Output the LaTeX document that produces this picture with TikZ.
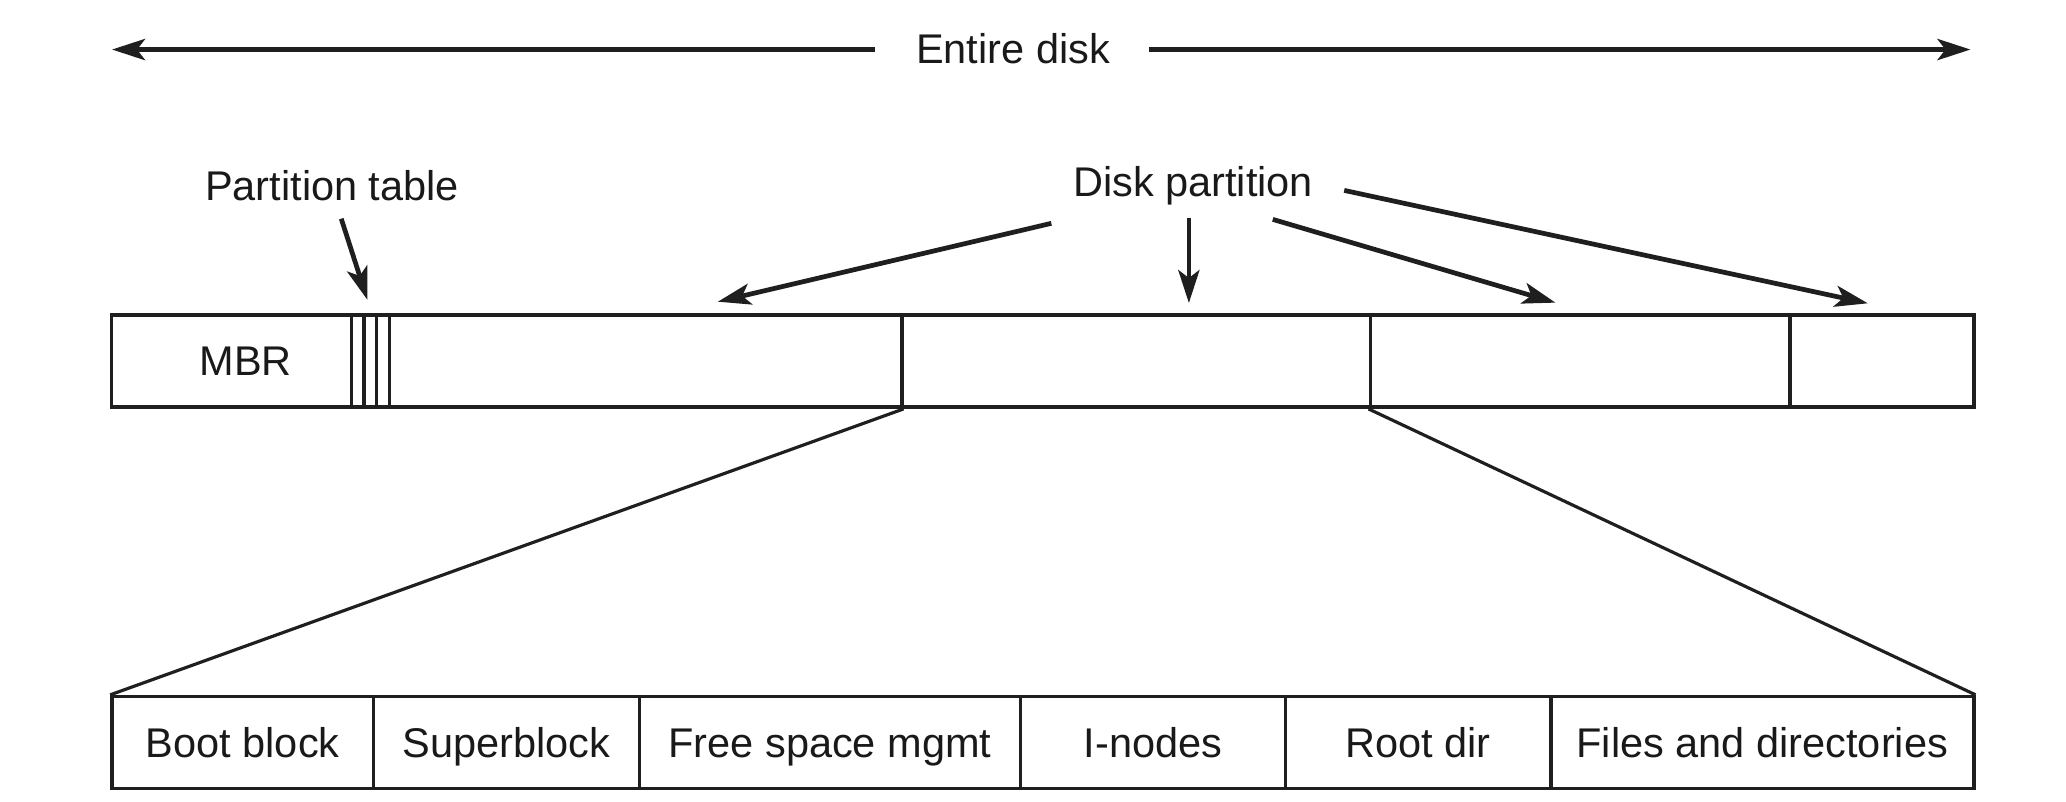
\documentclass[tikz,border=0pt]{standalone}
\usepackage{fontspec}
\setmainfont{Liberation Sans}
\usetikzlibrary{arrows.meta}
\begin{document}
\begin{tikzpicture}[x=1pt,y=-1pt,line join=miter,
  lbl/.style={font=\fontsize{31.5}{36}\selectfont,inner sep=0pt,text=black!90},
  cell/.style={draw=black!88,line width=2.7pt,inner sep=0pt,minimum height=70pt,
    font=\fontsize{31.5}{36}\selectfont,text height=22.6pt,text depth=0pt,text=black!90},
  bcell/.style={cell,minimum height=69.6pt},
  conn/.style={draw=black!88,line width=2.4pt},
  arr/.style={draw=black!88,line width=3.6pt,-{Stealth[length=25pt,width=16pt,inset=6pt]}},
  darr/.style={draw=black!88,line width=3.8pt,-{Stealth[length=25pt,width=16pt,inset=6pt]}}]
\useasboundingbox (0,0) rectangle (1568,608);

% Entire disk
\node[lbl,anchor=base,inner xsep=0pt] (ed) at (768.8,48.1) {Entire disk};
\coordinate (edLs) at (664.1,37.6);
\coordinate (edRs) at (872,37.6);
\coordinate (edL) at (85,37.6);
\coordinate (edR) at (1495.5,37.6);
\draw[darr] (edLs) -- (edL);
\draw[darr] (edRs) -- (edR);

% top bar
\node[cell,minimum width=182.2pt] (mbr) at (175.8,274) {};
\node[lbl] (mbrt) at (186.5,274) {MBR};
\node[cell,minimum width=9.4pt] (pt1) at (271.6,274) {};
\node[cell,minimum width=9.6pt] (pt2) at (281.1,274) {};
\node[cell,minimum width=9.6pt] (pt3) at (290.7,274) {};
\node[cell,minimum width=388.9pt] (p1) at (489.95,274) {};
\node[cell,minimum width=355.6pt] (p2) at (862.2,274) {};
\node[cell,minimum width=318.7pt] (p3) at (1199.35,274) {};
\node[cell,minimum width=139.5pt] (p4) at (1428.45,274) {};

% Partition table
\node[lbl,anchor=base] (pt) at (252,151.8) {Partition table};
\coordinate (ptS) at (259,166);
\coordinate (ptT) at (278.8,227.5);
\draw[arr] (ptS) -- (ptT);

% Disk partition
\node[lbl,anchor=base] (dp) at (905.5,149.3) {Disk partition};
\coordinate (dpa) at (797.9,169.5);
\coordinate (dpaT) at (544.8,229);
\coordinate (dpb) at (902.3,165.7);
\coordinate (dpbT) at (902.3,230);
\coordinate (dpc) at (966,166.5);
\coordinate (dpcT) at (1180.5,229.7);
\coordinate (dpd) at (1020.2,144.5);
\coordinate (dpdT) at (1417.6,230.2);
\draw[arr] (dpa) -- (dpaT);
\draw[arr] (dpb) -- (dpbT);
\draw[arr] (dpc) -- (dpcT);
\draw[arr] (dpd) -- (dpdT);

% bottom bar
\node[bcell,minimum width=198.4pt] (bb) at (184.2,563.5) {Boot block};
\node[bcell,minimum width=201.8pt] (sb) at (384.3,563.5) {Superblock};
\node[bcell,minimum width=289.4pt] (fs) at (629.9,563.5) {Free space mgmt};
\node[bcell,minimum width=201pt] (in) at (875.1,563.5) {I-nodes};
\node[bcell,minimum width=201.4pt] (rd) at (1076.3,563.5) {Root dir};
\node[bcell,minimum width=321pt] (fd) at (1337.5,563.5) {Files and directories};

% expansion lines
\draw[conn] (p1.south east) -- (bb.north west);
\draw[conn] (p3.south west) -- (fd.north east);
\end{tikzpicture}
\end{document}
